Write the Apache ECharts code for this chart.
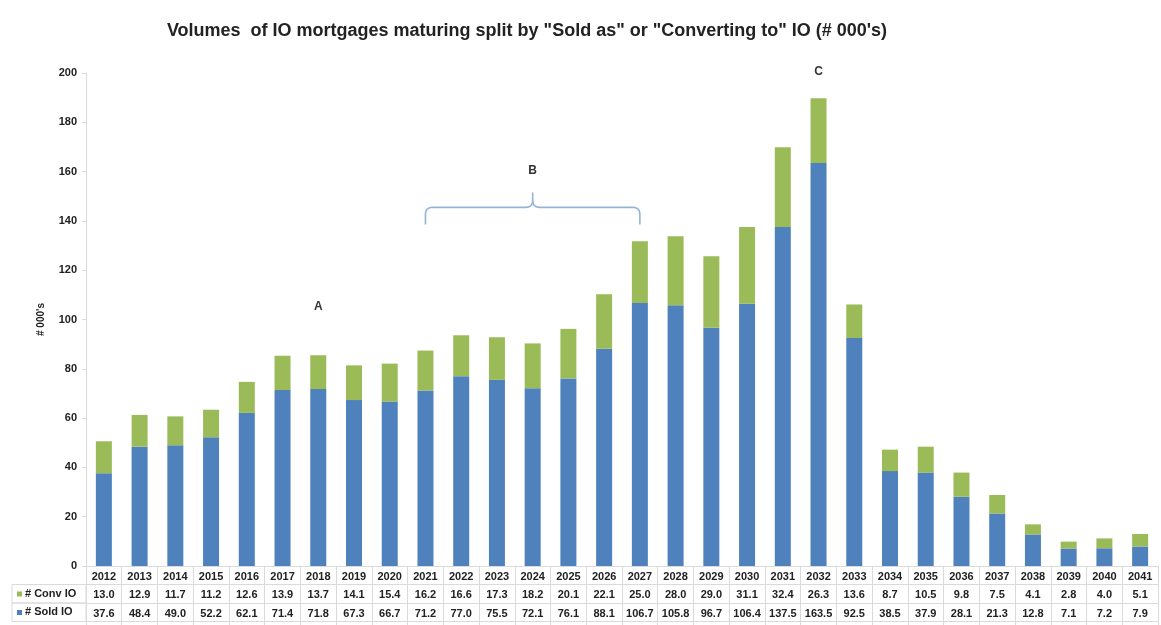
<!DOCTYPE html>
<html><head><meta charset="utf-8">
<script src="https://cdn.jsdelivr.net/npm/echarts@6/dist/echarts.min.js"></script>
<style>html,body{margin:0;padding:0;background:#fff}#c{width:1161px;height:625px}</style>
</head><body><div id="c"></div>
<script>
const years = ['2012','2013','2014','2015','2016','2017','2018','2019','2020','2021','2022','2023','2024','2025','2026','2027','2028','2029','2030','2031','2032','2033','2034','2035','2036','2037','2038','2039','2040','2041'];
const convIO = [13.0,12.9,11.7,11.2,12.6,13.9,13.7,14.1,15.4,16.2,16.6,17.3,18.2,20.1,22.1,25.0,28.0,29.0,31.1,32.4,26.3,13.6,8.7,10.5,9.8,7.5,4.1,2.8,4.0,5.1];
const soldIO = [37.6,48.4,49.0,52.2,62.1,71.4,71.8,67.3,66.7,71.2,77.0,75.5,72.1,76.1,88.1,106.7,105.8,96.7,106.4,137.5,163.5,92.5,38.5,37.9,28.1,21.3,12.8,7.1,7.2,7.9];
const yTicks = {min:0, max:200, interval:20};
const annotations = [{text:'A', x:5.6, y:105},{text:'B', x:12, y:160.5},{text:'C', x:20, y:200.5}];
const bracket = {from:9, to:15, y:145.5, yEnd:138.5, yTip:151.5, mid:12};

const BLUE = '#4F81BD', GREEN = '#9BBB59', BORDER = '#dadada';
const chart = echarts.init(document.getElementById('c'));
const ROW = 18.5;
const tableAxis = (labels, offset, showLabel) => ({
  type:'category', data:labels, position:'bottom', offset:offset, gridIndex:0,
  axisLine:{show:true, lineStyle:{color:BORDER}},
  axisTick:{show:true, interval:0, length:ROW, lineStyle:{color:BORDER}},
  axisLabel:{show:showLabel, interval:0, margin:5, fontFamily:'Liberation Sans', fontSize:11, fontWeight:'bold', color:'#222'}
});
chart.setOption({
  animation:false,
  title:{text:'Volumes  of IO mortgages maturing split by "Sold as" or "Converting to" IO (# 000\'s)', left:522, textAlign:'center', top:17,
    textStyle:{fontFamily:'Liberation Sans', fontSize:18, fontWeight:'bold', color:'#222'}},
  grid:{left:86, right:3, top:73, bottom:59, containLabel:false},
  xAxis:[
    tableAxis(years, 0, true),
    tableAxis(convIO.map(v=>v.toFixed(1)), ROW, true),
    tableAxis(soldIO.map(v=>v.toFixed(1)), ROW*2, true),
    tableAxis(years.map(()=>''), ROW*3, false)
  ],
  yAxis:{type:'value', min:yTicks.min, max:yTicks.max, interval:yTicks.interval,
    name:"# 000's", nameLocation:'middle', nameGap:40, nameRotate:90,
    nameTextStyle:{fontFamily:'Liberation Sans', fontSize:10, fontWeight:'bold', color:'#222'},
    axisLine:{show:true, lineStyle:{color:BORDER}}, axisTick:{show:true, length:4, lineStyle:{color:BORDER}},
    splitLine:{show:false},
    axisLabel:{fontFamily:'Liberation Sans', fontSize:11, fontWeight:'bold', color:'#222', margin:9}},
  series:[
    {name:'# Sold IO', type:'bar', stack:'t', data:soldIO, barWidth:16, itemStyle:{color:BLUE}, xAxisIndex:0},
    {name:'# Conv IO', type:'bar', stack:'t', data:convIO, barWidth:16, itemStyle:{color:GREEN}, xAxisIndex:0}
  ]
});
function px(x,y){return chart.convertToPixel({xAxisIndex:0,yAxisIndex:0},[x,y]);}
const g = [];
annotations.forEach(a=>{const p=px(a.x,a.y); g.push({type:'text', x:p[0], y:p[1], style:{text:a.text, align:'center', verticalAlign:'middle', font:'bold 12px Liberation Sans', fill:'#333'}});});
const L=px(bracket.from,bracket.yEnd), R=px(bracket.to,bracket.yEnd), H=px(bracket.mid,bracket.y), T=px(bracket.mid,bracket.yTip);
const yh=H[1], r=7;
function quad(p0,p1,p2,n){const out=[];for(let i=1;i<=n;i++){const t=i/n;out.push([(1-t)*(1-t)*p0[0]+2*(1-t)*t*p1[0]+t*t*p2[0],(1-t)*(1-t)*p0[1]+2*(1-t)*t*p1[1]+t*t*p2[1]]);}return out;}
const leftHalf = [[L[0],L[1]],[L[0],yh+r]].concat(quad([L[0],yh+r],[L[0],yh],[L[0]+r,yh],6)).concat([[H[0]-r,yh]]).concat(quad([H[0]-r,yh],[H[0],yh],[H[0],yh-r],6)).concat([[T[0],T[1]]]);
const rightHalf = [[H[0],yh-r]].concat(quad([H[0],yh-r],[H[0],yh],[H[0]+r,yh],6)).concat([[R[0]-r,yh]]).concat(quad([R[0]-r,yh],[R[0],yh],[R[0],yh+r],6)).concat([[R[0],R[1]]]);
[leftHalf,rightHalf].forEach(pts=>g.push({type:'polyline', shape:{points:pts}, style:{stroke:'#95b3d7', lineWidth:1.6, fill:null}}));
const axisY = px(0,0)[1];
const left = 12, right = 86;
[[GREEN,'# Conv IO',1],[BLUE,'# Sold IO',2]].forEach(([c,t,i])=>{
  const top = axisY + ROW*i;
  g.push({type:'rect', shape:{x:left, y:top, width:right-left, height:ROW}, style:{fill:'none', stroke:BORDER, lineWidth:1}});
  g.push({type:'rect', shape:{x:left+5, y:top+7, width:5, height:5}, style:{fill:c}});
  g.push({type:'text', x:left+13, y:top+ROW/2, style:{text:t, verticalAlign:'middle', font:'bold 11px Liberation Sans', fill:'#222'}});
});
chart.setOption({graphic:g});
</script></body></html>
